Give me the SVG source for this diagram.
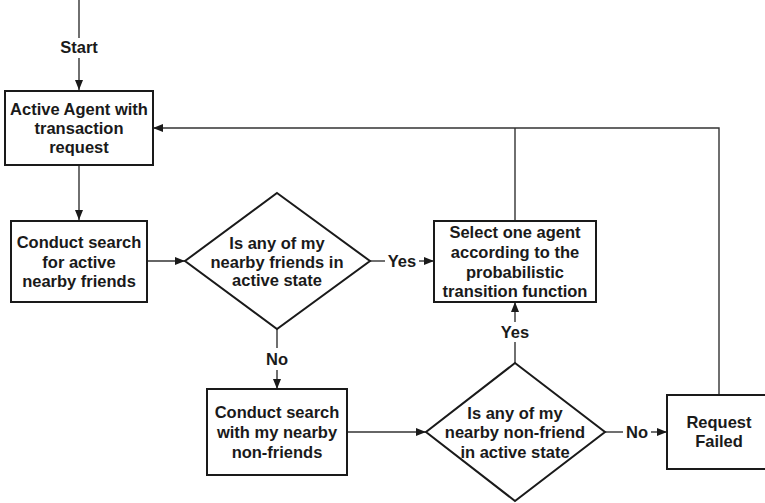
<svg xmlns="http://www.w3.org/2000/svg" width="765" height="503" viewBox="0 0 765 503">
  <style>
    .box { fill: #ffffff; stroke: #1a1a1a; stroke-width: 2; }
    .wire { fill: none; stroke: #333333; stroke-width: 1.4; }
    .t { font-family: "Liberation Sans", Arial, sans-serif; font-weight: bold; font-size: 16.5px; fill: #1a1a1a; text-anchor: middle; }
  </style>
  <defs>
    <marker id="arrow" markerUnits="userSpaceOnUse" markerWidth="12" markerHeight="10" refX="10" refY="5" orient="auto">
      <path d="M0,1 L10,5 L0,9 Z" fill="#1a1a1a"/>
    </marker>
  </defs>

  <!-- connectors -->
  <g id="connectors">
    <path class="wire" d="M79,0 V38"/>
    <path class="wire" d="M79,58 V90" marker-end="url(#arrow)"/>
    <path class="wire" d="M79,165 V220" marker-end="url(#arrow)"/>
    <path class="wire" d="M147,261 H185" marker-end="url(#arrow)"/>
    <path class="wire" d="M370,261 H385"/>
    <path class="wire" d="M419,261 H434" marker-end="url(#arrow)"/>
    <path class="wire" d="M277,329 V348"/>
    <path class="wire" d="M277,370 V389" marker-end="url(#arrow)"/>
    <path class="wire" d="M347,432 H426" marker-end="url(#arrow)"/>
    <path class="wire" d="M515,363 V342"/>
    <path class="wire" d="M515,322 V302" marker-end="url(#arrow)"/>
    <path class="wire" d="M605,432 H623"/>
    <path class="wire" d="M651,432 H667" marker-end="url(#arrow)"/>
    <path class="wire" d="M719,395 V128 H153" marker-end="url(#arrow)"/>
    <path class="wire" d="M515,221 V128"/>
    <text class="t" x="79" y="53">Start</text>
    <text class="t" x="402" y="267">Yes</text>
    <text class="t" x="277" y="365">No</text>
    <text class="t" x="515" y="338">Yes</text>
    <text class="t" x="637" y="438">No</text>
  </g>

  <g id="active-agent">
    <rect class="box" x="5" y="91" width="148" height="74"/>
    <text class="t" x="79" y="115">Active Agent with</text>
    <text class="t" x="79" y="134">transaction</text>
    <text class="t" x="79" y="153">request</text>
  </g>

  <g id="search-friends">
    <rect class="box" x="11" y="221" width="136" height="81"/>
    <text class="t" x="79" y="248">Conduct search</text>
    <text class="t" x="79" y="268">for active</text>
    <text class="t" x="79" y="287">nearby friends</text>
  </g>

  <g id="friends-active">
    <polygon class="box" points="277,193 370,261 277,329 185,261"/>
    <text class="t" x="277" y="249">Is any of my</text>
    <text class="t" x="277" y="268">nearby friends in</text>
    <text class="t" x="277" y="286">active state</text>
  </g>

  <g id="select-agent">
    <rect class="box" x="434" y="221" width="162" height="81"/>
    <text class="t" x="515" y="238">Select one agent</text>
    <text class="t" x="515" y="258">according to the</text>
    <text class="t" x="515" y="278">probabilistic</text>
    <text class="t" x="515" y="297">transition function</text>
  </g>

  <g id="search-nonfriends">
    <rect class="box" x="207" y="389" width="140" height="86"/>
    <text class="t" x="277" y="418">Conduct search</text>
    <text class="t" x="277" y="438">with my nearby</text>
    <text class="t" x="277" y="458">non-friends</text>
  </g>

  <g id="nonfriend-active">
    <polygon class="box" points="515,363 605,432 515,501 426,432"/>
    <text class="t" x="515" y="419">Is any of my</text>
    <text class="t" x="515" y="438">nearby non-friend</text>
    <text class="t" x="515" y="458">in active state</text>
  </g>

  <g id="request-failed">
    <rect class="box" x="667" y="395" width="100" height="74"/>
    <text class="t" x="719" y="428">Request</text>
    <text class="t" x="719" y="447">Failed</text>
  </g>
</svg>
